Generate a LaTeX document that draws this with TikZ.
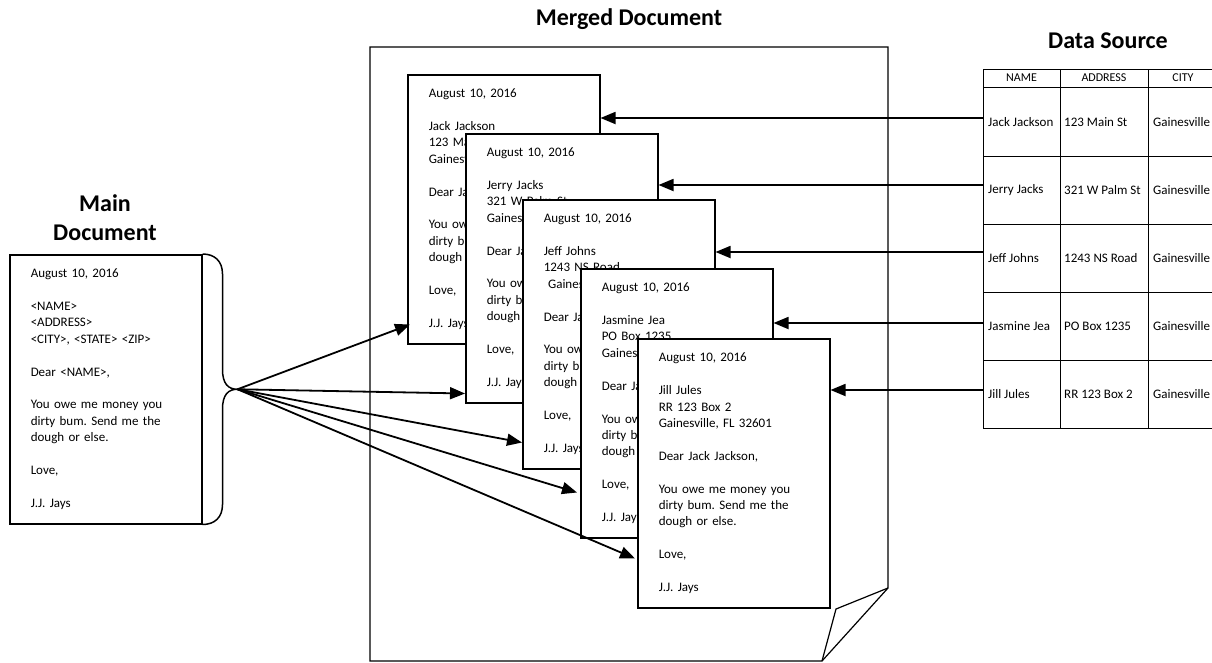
\documentclass[tikz,border=0pt]{standalone}
\usepackage{fontspec}
\setmainfont{Carlito}
\usetikzlibrary{calc}
\usetikzlibrary{arrows.meta,positioning}
\frenchspacing

% body of one merged letter: name, street, city line
\newcommand{\lettertext}[3]{August 10, 2016\\[16.4pt]#1\\#2\\#3\\[16.4pt]Dear Jack Jackson,\\[16.4pt]You owe me money you\\dirty bum. Send me the\\dough or else.\\[16.4pt]Love,\\[16.4pt]J.J. Jays}

\begin{document}
\begin{tikzpicture}[x=1pt,y=-1pt,
  page/.style={rectangle,draw=black,fill=white,line width=1.5pt,anchor=north west,
    text width=150pt,inner xsep=21pt,inner ysep=0pt,minimum height=269pt,align=left,
    font=\fontsize{13}{16.4}\selectfont},
  title/.style={font=\fontsize{24}{29}\selectfont\bfseries,align=center},
  cell/.style={font=\fontsize{13}{16}\selectfont,anchor=west,inner sep=0pt},
  head/.style={font=\fontsize{12}{14}\selectfont,inner sep=0pt},
  feed/.style={line width=1.8pt,-{Triangle[length=15pt,width=12pt]}}]

\useasboundingbox (0,0) rectangle (1212,662);
\clip (0,0) rectangle (1212,662);

\coordinate (LEFTCORNER) at (0,0);

%%%%%%%%%%%%%%%%%%%%%
%titles
\node[title] at ($(LEFTCORNER)+(105,218)$) (MAINTITLE) {Main\\Document};
\node[title] at ($(LEFTCORNER)+(629,19)$) (MERGEDTITLE) {Merged Document};
\node[title] at ($(LEFTCORNER)+(1108,41)$) (SOURCETITLE) {Data Source};

%%%%%%%%%%%%%%%%%%%%%
%draw main document + brace
\node[page] at ($(LEFTCORNER)+(9,254)$) (MAIN) {August 10, 2016\\[16.4pt]<NAME>\\<ADDRESS>\\<CITY>, <STATE> <ZIP>\\[16.4pt]Dear <NAME>,\\[16.4pt]You owe me money you\\dirty bum. Send me the\\dough or else.\\[16.4pt]Love,\\[16.4pt]J.J. Jays};

\coordinate (TIP) at ($(MAIN.east)+(35,0)$);
\draw[line width=1.5pt] (MAIN.north east) .. controls ++(12,0) and ++(0,-13) .. ++(20,20)
  -- ($(TIP)+(-15,-20)$) .. controls ++(0,15) and ++(-9,0) .. (TIP)
  .. controls ++(-9,0) and ++(0,-15) .. ($(TIP)+(-15,20)$)
  -- ($(MAIN.south east)+(20,-20)$) .. controls ++(0,13) and ++(12,0) .. (MAIN.south east);

%%%%%%%%%%%%%%%%%%%%%
%draw merged document with folded corner
\coordinate (MERGED) at (370,47);
\draw[line width=1.2pt] (MERGED) -- ++(518,0) -- ++(0,541) -- ++(-66,73) -- ++(-452,0) -- cycle;
\draw[line width=1.2pt] ($(MERGED)+(518,541)$) -- ++(-52,21) -- ++(-14,52);

%the letters, last one on top
\node[page] at ($(MERGED)+(37,27)$) (LETTER1) {\lettertext{Jack Jackson}{123 Main St}{Gainesville, FL 32601}};
\node[page] at ($(MERGED)+(95,86)$) (LETTER2) {\lettertext{Jerry Jacks}{321 W Palm St}{Gainesville, FL 32601}};
\node[page] at ($(MERGED)+(152,152)$) (LETTER3) {\lettertext{Jeff Johns}{1243 NS Road}{\ Gainesville, FL 32601}};
\node[page] at ($(MERGED)+(210,221)$) (LETTER4) {\lettertext{Jasmine Jea}{PO Box 1235}{Gainesville, FL 32601}};
\node[page] at ($(MERGED)+(267,291)$) (LETTER5) {\lettertext{Jill Jules}{RR 123 Box 2}{Gainesville, FL 32601}};

%arrows from the brace
\draw[feed] (TIP) -- ($(LETTER1.south west)+(3,-20)$);
\draw[feed] (TIP) -- ($(LETTER2.south west)+(0,-10)$);
\draw[feed] (TIP) -- ($(LETTER3.south west)+(0,-27)$);
\draw[feed] (TIP) -- ($(LETTER4.south west)+(-3,-46)$);
\draw[feed] (TIP) -- ($(LETTER5.south west)+(-2,-50)$);

%%%%%%%%%%%%%%%%%%%%%
%draw data source table
\coordinate (TABLE) at (983,69);
\draw[line width=0.8pt] (TABLE) rectangle ++(235,359);
\draw[line width=0.8pt] ($(TABLE)+(0,18)$) -- ++(235,0);
\draw[line width=0.8pt] ($(TABLE)+(0,87)$) -- ++(235,0);
\draw[line width=0.8pt] ($(TABLE)+(0,155)$) -- ++(235,0);
\draw[line width=0.8pt] ($(TABLE)+(0,223)$) -- ++(235,0);
\draw[line width=0.8pt] ($(TABLE)+(0,291)$) -- ++(235,0);
\draw[line width=0.8pt] ($(TABLE)+(77,0)$) -- ++(0,359);
\draw[line width=0.8pt] ($(TABLE)+(165,0)$) -- ++(0,359);

\node[head] at ($(TABLE)+(38.5,9)$) (HNAME) {NAME};
\node[head] at ($(TABLE)+(121,9)$) (HADDRESS) {ADDRESS};
\node[head] at ($(TABLE)+(200,9)$) (HCITY) {CITY};

\node[cell] at ($(TABLE)+(5,53)$) (NAME1) {Jack Jackson};
\node[cell] at ($(TABLE)+(5,121)$) (NAME2) {Jerry Jacks};
\node[cell] at ($(TABLE)+(5,189)$) (NAME3) {Jeff Johns};
\node[cell] at ($(TABLE)+(5,257)$) (NAME4) {Jasmine Jea};
\node[cell] at ($(TABLE)+(5,325)$) (NAME5) {Jill Jules};

\node[cell] at ($(TABLE)+(81,53)$) (ADDR1) {123 Main St};
\node[cell] at ($(TABLE)+(81,121)$) (ADDR2) {321 W Palm St};
\node[cell] at ($(TABLE)+(81,189)$) (ADDR3) {1243 NS Road};
\node[cell] at ($(TABLE)+(81,257)$) (ADDR4) {PO Box 1235};
\node[cell] at ($(TABLE)+(81,325)$) (ADDR5) {RR 123 Box 2};

\node[cell] at ($(TABLE)+(170,53)$) (CITY1) {Gainesville};
\node[cell] at ($(TABLE)+(170,121)$) (CITY2) {Gainesville};
\node[cell] at ($(TABLE)+(170,189)$) (CITY3) {Gainesville};
\node[cell] at ($(TABLE)+(170,257)$) (CITY4) {Gainesville};
\node[cell] at ($(TABLE)+(170,325)$) (CITY5) {Gainesville};

%arrows from table rows to the letters
\coordinate (ROW1) at ($(TABLE)+(0,49)$);
\coordinate (ROW2) at ($(TABLE)+(0,116)$);
\coordinate (ROW3) at ($(TABLE)+(0,183)$);
\coordinate (ROW4) at ($(TABLE)+(0,254)$);
\coordinate (ROW5) at ($(TABLE)+(0,321)$);
\draw[feed] (ROW1) -- (ROW1 -| LETTER1.east);
\draw[feed] (ROW2) -- (ROW2 -| LETTER2.east);
\draw[feed] (ROW3) -- (ROW3 -| LETTER3.east);
\draw[feed] (ROW4) -- (ROW4 -| LETTER4.east);
\draw[feed] (ROW5) -- (ROW5 -| LETTER5.east);

%%%%%%%%%%%%%%%%%%%%%%

\end{tikzpicture}
\end{document}
